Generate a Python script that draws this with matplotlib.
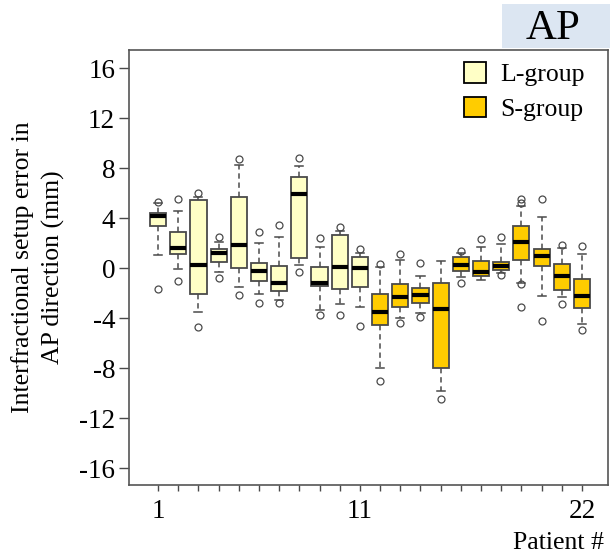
import matplotlib
matplotlib.use("Agg")
import matplotlib.pyplot as plt
from matplotlib.patches import Patch, Rectangle

plt.rcParams["font.family"] = ["Liberation Serif", "DejaVu Serif"]
plt.rcParams["axes.unicode_minus"] = False

# Box statistics (mm), patients 1-22
patients = list(range(1, 23))
whisker_lo = [1.04, -0.08, -3.49, -0.29, -1.55, -2.08, -2.56, 0.24, -3.36, -2.91, -3.09,
              -7.97, -3.97, -3.63, -9.81, -0.69, -0.96, -0.43, -1.23, -2.24, -2.35, -4.51]
q1 = [3.39, 1.09, -2.08, 0.45, -0.03, -1.01, -1.84, 0.77, -1.44, -1.68, -1.49,
      -4.59, -3.15, -2.77, -7.97, -0.24, -0.64, -0.13, 0.64, 0.16, -1.73, -3.23]
median = [4.19, 1.57, 0.24, 1.17, 1.84, -0.21, -1.17, 5.92, -1.17, 0.11, 0.03,
          -3.55, -2.35, -2.19, -3.28, 0.21, -0.32, 0.16, 2.11, 0.96, -0.61, -2.21]
q3 = [4.37, 2.85, 5.44, 1.52, 5.71, 0.43, 0.16, 7.31, 0.11, 2.64, 0.85,
      -2.08, -1.28, -1.57, -1.17, 0.91, 0.56, 0.45, 3.36, 1.49, 0.35, -0.91]
whisker_hi = [5.2, 4.59, 5.7, 2.11, 8.24, 1.97, 2.51, 8.16, 1.65, 2.99, 1.23,
              0.1, 0.64, -0.61, 0.56, 1.17, 1.71, 1.89, 4.99, 4.05, 1.57, 1.12]
outliers = [[5.3, -1.71], [5.49, -1.01], [5.97, -4.69], [2.45, -0.77], [8.72, -2.19],
            [2.91, -2.83], [3.44, -2.77], [8.77, -0.32], [2.37, -3.76], [3.25, -3.76],
            [1.49, -4.64], [0.3, -9.07], [1.12, -4.43], [0.37, -3.89], [-10.45],
            [1.36, -1.17], [2.29], [2.45, -0.53], [5.55, 5.23, -1.3, -3.15],
            [5.55, -4.24], [1.81, -2.91], [1.76, -4.96]]
groups = ["L"] * 11 + ["S"] * 11

colors = {"L": "#FFFFC6", "S": "#FFCC00"}
edge = "#4a4a4a"

stats = []
for i in range(len(patients)):
    stats.append({
        "whislo": whisker_lo[i], "q1": q1[i], "med": median[i],
        "q3": q3[i], "whishi": whisker_hi[i], "fliers": outliers[i],
    })

fig = plt.figure(figsize=(6.10, 5.55), dpi=100)
ax = fig.add_axes([0.2115, 0.1261, 0.7852, 0.7838])

bp = ax.bxp(
    stats, positions=patients, widths=0.8, patch_artist=True,
    capwidths=0.4,
    boxprops=dict(edgecolor=edge, linewidth=1.3),
    medianprops=dict(color="black", linewidth=3),
    whiskerprops=dict(color=edge, linewidth=1.1, linestyle=(0, (3.5, 2.5))),
    capprops=dict(color=edge, linewidth=1.1),
    flierprops=dict(marker="o", markersize=5, markerfacecolor="none",
                    markeredgecolor=edge, markeredgewidth=0.9),
)
for patch, g in zip(bp["boxes"], groups):
    patch.set_facecolor(colors[g])

ax.set_xlim(-0.44, 23.29)
ax.set_ylim(-17.36, 17.44)
ax.set_yticks(range(-16, 17, 4))
ax.set_xticks(patients)
ax.set_xticklabels(["1" if p == 1 else "11" if p == 11 else "22" if p == 22 else ""
                    for p in patients])
ax.tick_params(axis="y", labelsize=19.5, length=7, width=1, color=edge, pad=3)
ax.tick_params(axis="x", labelsize=19.5, length=4, width=1, color=edge, pad=6)
for s in ax.spines.values():
    s.set_color("#555555")
    s.set_linewidth(1.2)

ax.set_ylabel("Interfractional setup error in\nAP direction (mm)", fontsize=18.5,
              linespacing=1.45, labelpad=10)
fig.text(0.99, 0.022, "Patient #", fontsize=18.5, ha="right", va="center")

handles = [Patch(facecolor=colors["L"], edgecolor="black", linewidth=1.3, label="L-group"),
           Patch(facecolor=colors["S"], edgecolor="black", linewidth=1.3, label="S-group")]
ax.legend(handles=handles, loc="upper right", bbox_to_anchor=(1.0, 1.025), frameon=False,
          fontsize=18.5, handlelength=0.85, handleheight=0.85, handletextpad=0.55,
          labelspacing=0.4)

# "AP" tag in the top right corner
fig.patches.append(Rectangle((502 / 610, 1 - 48 / 555), 108 / 610, 44 / 555,
                             transform=fig.transFigure, facecolor="#DCE6F2",
                             edgecolor="none"))
fig.text(553 / 610, 1 - 29 / 555, "AP", fontsize=31, ha="center", va="center")

fig.savefig("out.png", dpi=100)
